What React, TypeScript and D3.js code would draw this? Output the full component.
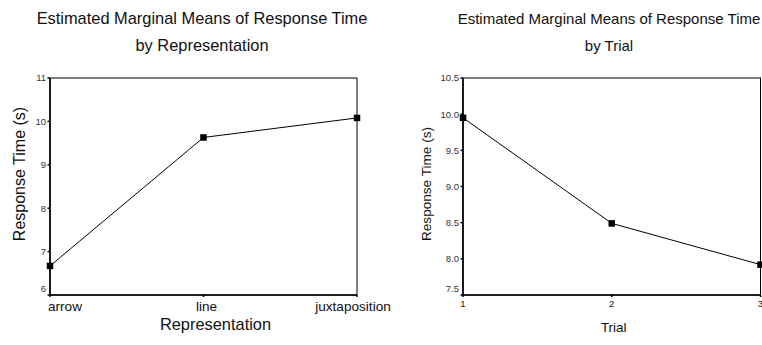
import * as d3 from 'd3'

// left panel: by Representation
const repCategories = ['arrow', 'line', 'juxtaposition']
const repMeans = [6.67, 9.63, 10.08]
const repTicks = [6, 7, 8, 9, 10, 11]

// right panel: by Trial
const trialCategories = ['1', '2', '3']
const trialMeans = [9.95, 8.49, 7.92]
const trialTicks = [7.5, 8.0, 8.5, 9.0, 9.5, 10.0, 10.5]

const FONT = 'Liberation Sans, Arial, sans-serif'

type PanelProps = {
  cats: string[]
  values: number[]
  ticks: number[]
  tickFmt: (d: number) => string
  x0: number
  x1: number
  top: number
  bottom: number
  title: [string, string]
  titleX: number
  titleSize: number
  xTitle: string
  xTitleX: number
  xTitleY: number
  xTitleSize: number
  yTitleX: number
  yTitleY: number
  yTitleSize: number
  catSize: number
  catY: number
  firstStart: boolean
}

function Panel(p: PanelProps) {
  const x = d3.scalePoint<string>().domain(p.cats).range([p.x0, p.x1]).padding(0)
  const y = d3.scaleLinear()
    .domain([p.ticks[0], p.ticks[p.ticks.length - 1]])
    .range([p.bottom, p.top])

  const pts = p.cats.map((c, i) => [x(c) as number, y(p.values[i])] as [number, number])
  const line = d3.line()
  const sq = 6.5

  return (
    <g>
      <text x={p.titleX} y={24} textAnchor="middle" fontSize={p.titleSize} fill="#111" fontFamily={FONT}>{p.title[0]}</text>
      <text x={p.titleX} y={50.5} textAnchor="middle" fontSize={p.titleSize} fill="#111" fontFamily={FONT}>{p.title[1]}</text>

      {/* frame */}
      <rect x={p.x0} y={p.top} width={p.x1 - p.x0} height={p.bottom - p.top} fill="none" stroke="#000" strokeWidth={1} />
      <line x1={p.x0} x2={p.x0} y1={p.top} y2={p.bottom} stroke="#000" strokeWidth={1.6} />
      <line x1={p.x0} x2={p.x1} y1={p.bottom} y2={p.bottom} stroke="#000" strokeWidth={1.3} />

      {p.ticks.map((t, i) => (
        <g key={'yt' + i}>
          <line x1={p.x0 - 2.5} x2={p.x0} y1={y(t)} y2={y(t)} stroke="#000" strokeWidth={1.5} />
          <text x={p.x0 - 4} y={Math.min(y(t) + 3.4, p.bottom - 3.3)} textAnchor="end" fontSize={9.5} fill="#333" fontFamily={FONT}>{p.tickFmt(t)}</text>
        </g>
      ))}

      {p.cats.map((c, i) => {
        const cx = x(c) as number
        const first = p.firstStart && i === 0
        const last = p.firstStart && i === p.cats.length - 1
        return (
          <g key={'xt' + i}>
            <line x1={cx} x2={cx} y1={p.bottom} y2={p.bottom + 2} stroke="#000" strokeWidth={1.5} />
            <text
              x={first ? cx - 2 : last ? cx - 4 : cx + (p.firstStart ? 3 : 0)}
              y={p.catY}
              textAnchor={first ? 'start' : 'middle'}
              fontSize={p.catSize}
              fill="#111"
              fontFamily={FONT}
            >{c}</text>
          </g>
        )
      })}

      <path d={line(pts) || ''} fill="none" stroke="#000" strokeWidth={1} />
      {pts.map((d, i) => (
        <rect key={'m' + i} x={d[0] - sq / 2} y={d[1] - sq / 2} width={sq} height={sq} fill="#000" />
      ))}

      <text x={p.xTitleX} y={p.xTitleY} textAnchor="middle" fontSize={p.xTitleSize} fill="#111" fontFamily={FONT}>{p.xTitle}</text>
      <text
        transform={`translate(${p.yTitleX},${p.yTitleY}) rotate(-90)`}
        textAnchor="middle"
        fontSize={p.yTitleSize}
        fill="#111"
        fontFamily={FONT}
      >Response Time (s)</text>
    </g>
  )
}

export default function App() {
  return (
    <svg width={762} height={345} style={{ position: 'absolute', left: 0, top: 0, background: '#fff' }}>
      <rect width={762} height={345} fill="#fff" />
      <Panel
        cats={repCategories}
        values={repMeans}
        ticks={repTicks}
        tickFmt={d3.format('d')}
        x0={50} x1={357} top={78} bottom={295}
        title={['Estimated Marginal Means of Response Time', 'by Representation']}
        titleX={202} titleSize={16.4}
        xTitle="Representation" xTitleX={215.5} xTitleY={329.5} xTitleSize={16.4}
        yTitleX={25} yTitleY={174} yTitleSize={16}
        catSize={13.6} catY={310.7}
        firstStart={true}
      />
      <Panel
        cats={trialCategories}
        values={trialMeans}
        ticks={trialTicks}
        tickFmt={d3.format('.1f')}
        x0={463} x1={760.5} top={78} bottom={295}
        title={['Estimated Marginal Means of Response Time', 'by Trial']}
        titleX={609} titleSize={15}
        xTitle="Trial" xTitleX={613.7} xTitleY={331.7} xTitleSize={13.4}
        yTitleX={431} yTitleY={184} yTitleSize={13.6}
        catSize={9.5} catY={306.7}
        firstStart={false}
      />
    </svg>
  )
}
